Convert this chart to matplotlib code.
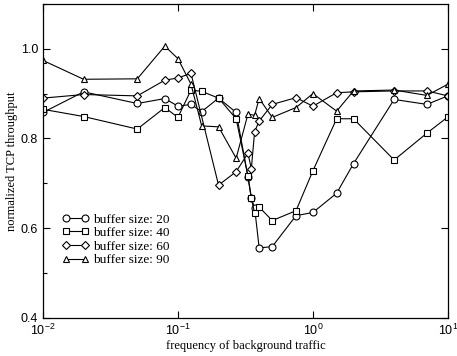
import matplotlib
matplotlib.use("Agg")
import matplotlib.pyplot as plt
from matplotlib.ticker import LogLocator, MultipleLocator, NullLocator

# frequency of background traffic (x) per buffer size
freq_20 = [0.01, 0.02, 0.05, 0.08, 0.1, 0.125, 0.15, 0.2, 0.27, 0.33, 0.35, 0.37, 0.4,
           0.5, 0.75, 1, 1.5, 2, 4, 7, 10]
tput_20 = [0.858, 0.904, 0.878, 0.889, 0.872, 0.876, 0.860, 0.890, 0.858, 0.715, 0.667, 0.645, 0.556,
           0.559, 0.628, 0.635, 0.678, 0.744, 0.887, 0.876, 0.895]

freq_40 = [0.01, 0.02, 0.05, 0.08, 0.1, 0.125, 0.15, 0.2, 0.27, 0.33, 0.35, 0.37, 0.4,
           0.5, 0.75, 1, 1.5, 2, 4, 7, 10]
tput_40 = [0.865, 0.849, 0.821, 0.869, 0.847, 0.908, 0.905, 0.890, 0.844, 0.717, 0.667, 0.633, 0.647,
           0.617, 0.639, 0.728, 0.844, 0.844, 0.752, 0.812, 0.848]

freq_60 = [0.01, 0.02, 0.05, 0.08, 0.1, 0.125, 0.2, 0.27, 0.33, 0.35, 0.37, 0.4,
           0.5, 0.75, 1, 1.5, 2, 4, 7, 10]
tput_60 = [0.890, 0.898, 0.895, 0.930, 0.935, 0.945, 0.696, 0.726, 0.767, 0.733, 0.815, 0.839,
           0.876, 0.891, 0.872, 0.902, 0.904, 0.906, 0.906, 0.895]

freq_90 = [0.01, 0.02, 0.05, 0.08, 0.1, 0.125, 0.15, 0.2, 0.27, 0.33, 0.37, 0.4,
           0.5, 0.75, 1, 1.5, 2, 4, 7, 10]
tput_90 = [0.974, 0.932, 0.933, 1.006, 0.978, 0.921, 0.828, 0.826, 0.756, 0.854, 0.852, 0.889,
           0.847, 0.869, 0.900, 0.861, 0.906, 0.908, 0.896, 0.921]

series = [
    (freq_20, tput_20, "o", "buffer size: 20"),
    (freq_40, tput_40, "s", "buffer size: 40"),
    (freq_60, tput_60, "D", "buffer size: 60"),
    (freq_90, tput_90, "^", "buffer size: 90"),
]

fig = plt.figure(figsize=(4.57, 3.56), dpi=100)
ax = fig.add_axes([0.094, 0.107, 0.886, 0.882])

for x, y, m, lab in series:
    ms = 4.2 if m == "D" else 5
    ax.plot(x, y, marker=m, color="black", linewidth=0.8, markersize=ms,
            markerfacecolor="white", markeredgewidth=0.8, label=lab)

ax.set_xscale("log")
ax.set_xlim(0.01, 10)
ax.set_ylim(0.4, 1.1)
ax.xaxis.set_major_locator(LogLocator(base=10, numticks=10))
ax.xaxis.set_minor_locator(NullLocator())
ax.yaxis.set_major_locator(MultipleLocator(0.2))
ax.yaxis.set_minor_locator(MultipleLocator(0.1))

ax.tick_params(which="both", direction="in", top=True, right=True,
               labelsize=9, labelfontfamily="Liberation Sans")
ax.tick_params(which="major", length=5, width=0.8)
ax.tick_params(which="minor", length=3, width=0.8, right=False)
for s in ax.spines.values():
    s.set_linewidth(0.9)

ax.set_xlabel("frequency of background traffic", family="Liberation Serif",
              fontsize=9, labelpad=1.5)
ax.set_ylabel("normalized TCP throughput", family="Liberation Serif",
              fontsize=9, labelpad=2)

ax.legend(loc="upper left", bbox_to_anchor=(0.035, 0.35), frameon=False,
          numpoints=2, handlelength=2.0, handletextpad=0.3, labelspacing=0.1,
          prop={"family": "Liberation Serif", "size": 9.5}, borderaxespad=0)

fig.savefig("out.png", dpi=100)
